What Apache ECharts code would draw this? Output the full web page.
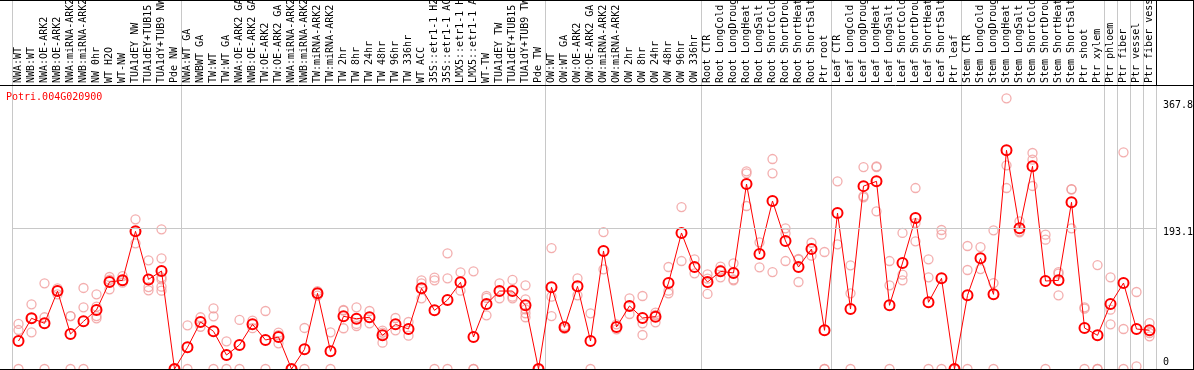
<!DOCTYPE html>
<html><head><meta charset="utf-8">
<script src="https://cdn.jsdelivr.net/npm/echarts@6/dist/echarts.min.js"></script>
<style>html,body{margin:0;padding:0;background:#fff}#c{width:1194px;height:370px}</style>
</head><body><div id="c"></div>
<script>
const categories = [
  'NWA:WT','NWB:WT','NWA:OE-ARK2','NWB:OE-ARK2','NWA:miRNA-ARK2','NWB:miRNA-ARK2','NW 0hr','WT H2O','WT-NW','TUA1dEY NW','TUA1dEY+TUB15 NW','TUA1dY+TUB9 NW','Pde NW',
  'NWA:WT GA','NWBWT GA','TW:WT','TW:WT GA','NWA:OE-ARK2 GA','NWB:OE-ARK2 GA','TW:OE-ARK2','TW:OE-ARK2 GA','NWA:miRNA-ARK2 GA','NWB:miRNA-ARK2 GA','TW:miRNA-ARK2','TW:miRNA-ARK2 GA',
  'TW 2hr','TW 8hr','TW 24hr','TW 48hr','TW 96hr','TW 336hr','WT ACC','35S::etr1-1 H2O','35S::etr1-1 ACC','LMX5::etr1-1 H2O','LMX5::etr1-1 ACC','WT-TW','TUA1dEY TW','TUA1dEY+TUB15 TW','TUA1dY+TUB9 TW','Pde TW',
  'OW:WT','OW:WT GA','OW:OE-ARK2','OW:OE-ARK2 GA','OW:miRNA-ARK2','OW:miRNA-ARK2 GA','OW 2hr','OW 8hr','OW 24hr','OW 48hr','OW 96hr','OW 336hr',
  'Root CTR','Root LongCold','Root LongDrought','Root LongHeat','Root LongSalt','Root ShortCold','Root ShortDrought','Root ShortHeat','Root ShortSalt','Ptr root',
  'Leaf CTR','Leaf LongCold','Leaf LongDrought','Leaf LongHeat','Leaf LongSalt','Leaf ShortCold','Leaf ShortDrought','Leaf ShortHeat','Leaf ShortSalt','Ptr leaf',
  'Stem CTR','Stem LongCold','Stem LongDrought','Stem LongHeat','Stem LongSalt','Stem ShortCold','Stem ShortDrought','Stem ShortHeat','Stem ShortSalt','Ptr shoot','Ptr xylem',
  'Ptr phloem','Ptr fiber','Ptr vessel','Ptr fiber vessel'
];
const meanValues = [
  38.4,69.6,62.7,107,48,65.4,81,119.4,121.7,189,123,134.5,0,
  29.7,64.5,51.7,19.2,33,61.3,39.8,43.9,0,27,103.9,24.3,
  72.3,69,71,46.2,61.3,54.9,110.7,80.5,94.7,119,43.9,89.2,107,107,87.4,0,
  112.1,57.2,113.5,38.4,162,57.6,86.5,70,71.8,118,186.7,140,
  119.4,134,131.8,253.9,157.8,230.6,175.7,140,164.7,53.1,
  214.1,82.3,251,257.6,87.4,145.5,207.2,91.5,124.5,0,
  101.1,151.9,102.5,300.2,193.1,278.2,120.8,121.7,228.8,56.3,46.2,
  89.2,118,54.9,53.1
];
const replicateValues = [
  [61.8,53.5,0],[88.8,50.3,69.7],[117.6,71,0],[110.7,102.5,107.8],[72.7,72.7,0],[111.2,84.7,0],[102.5,85.5,72.7,69.6],
  [126.3,109.4,122.5],[127.6,118.5,121],[205.4,172.5,189],[149.2,112.5,108],[191.7,151.9,125.8,123,113,107.5],[0,0,0],
  [60,0],[71,58],[83.3,72.3,0],[38,0],[67.3,0],[66.3,56],[79.6,0],[49.8,35.3,46.6],[0,0],[56.3,0],[107,103.9,100.8],[50.3,0],
  [81,55.9,80],[84.7,61.8,59],[79.6,62.7],[52.6,50,36.1],[70,53.1],[64.5,45.7],[121.7,117.6,97],[125.3,121.7,0],[158.8,124.5,0],
  [132.7,107.5],[134,0,0],[100.2,97.5,73.7],[117.6,97],[122.2,99.2,97],[114.9,95.7,81.9,76.5,71],[0,0],
  [166,99.2,72.7],[59,55],[124.5,101.1],[76.4,0],[188,136.8],[61.3,54.5],[97,75.5],[100.2,62.7,46.7],[77.3,74.1,64],
  [140,107.5,103.9],[222.3,148.2],[150.6,131.3],
  [130,103,124],[140.4,125.8,136],[145,123,121.7],[271.3,268.6,223.7],[173.9,139.6],[288.2,268.6,133.1],[193.1,186.2,148.2],
  [151,119.4,150],[173.3,155.5],[160.6,0,0],
  [257.6,171.1],[142.3,103.9,0],[277.2,237.4,235.6],[278.2,277.2,216.4],[148.2,114.9,0],[186.7,129.4,121.7],[248.4,200.4,175.3],
  [150.6,125.8,0],[190.8,184.3,0],[0,0,0],
  [168.8,135.9,0],[167.4,137.2],[190.4,118,0],[371.5,279.6,248.4],[202.7,187.6,189],[296.5,287.3,251.2],[184.3,177.5,0],
  [130.8,101.1,133],[246.6,193.1,246.7],[84.7,82.8,0],[142.7,0,0],
  [125.8,81.4,61.3],[297.4,54.9,0],[105.7,3.7],[63.1,49.4,44.9]
];
const yLabelValues = [0, 193.1, 367.8];
const gridValue = 193.1;
const geneTitle = 'Potri.004G020900';
const groupStartIndices = [0, 13, 41, 53, 63, 73, 84, 85, 86, 87];

const FONT = 'DejaVu Sans Mono';
const repData = [];
replicateValues.forEach((arr, i) => arr.forEach(v => repData.push([i, v])));
const sepSet = new Set(groupStartIndices);
const makeSplit = () => ({show: true, interval: (idx) => sepSet.has(idx), lineStyle: {color: '#c8c8c8', width: 1}});

const chart = echarts.init(document.getElementById('c'), null, {renderer: 'canvas'});
chart.setOption({
  animation: false,
  backgroundColor: '#fff',
  title: {text: geneTitle, left: 6, top: 92, padding: 0,
    textStyle: {color: '#ff0000', fontFamily: FONT, fontSize: 10, fontWeight: 'normal'}},
  grid: [
    {left: 12, right: 38, top: 0, height: 85, outerBoundsMode: 'none', containLabel: false},
    {left: 12, right: 38, top: 85, bottom: 1, outerBoundsMode: 'none', containLabel: false}
  ],
  xAxis: [
    {gridIndex: 0, type: 'category', data: categories, position: 'bottom',
      axisLine: {show: false}, axisTick: {show: false}, axisLabel: {show: false}, splitLine: makeSplit()},
    {gridIndex: 1, type: 'category', data: categories, position: 'top',
      axisLine: {show: false}, axisTick: {show: false},
      axisLabel: {show: true, interval: 0, rotate: 90, margin: 2, fontFamily: FONT, fontSize: 10, color: '#000'},
      splitLine: makeSplit()}
  ],
  yAxis: [
    {gridIndex: 0, type: 'value', min: 0, max: 1, show: false},
    {gridIndex: 1, type: 'value', position: 'right', min: 0, max: 389.8,
      axisLine: {show: false}, axisTick: {show: false}, splitLine: {show: false},
      axisLabel: {customValues: yLabelValues, margin: 7, fontFamily: FONT, fontSize: 10, color: '#000',
        formatter: v => v === 0 ? '{b|0}' : '{t|' + v + '}',
        rich: {t: {padding: [9, 0, 0, 0], fontFamily: FONT, fontSize: 10, color: '#000'},
               b: {padding: [0, 0, 14, 0], fontFamily: FONT, fontSize: 10, color: '#000'}}}}
  ],
  series: [
    {type: 'scatter', xAxisIndex: 1, yAxisIndex: 1, data: repData, symbol: 'circle', symbolSize: 9,
      itemStyle: {color: 'rgba(0,0,0,0)', borderColor: '#f09a9a', borderWidth: 1.3}, clip: false, z: 2, silent: true,
      markLine: {silent: true, symbol: 'none', label: {show: false}, animation: false,
        lineStyle: {color: '#c8c8c8', width: 1, type: 'solid'}, data: [{yAxis: gridValue}]}},
    {type: 'line', xAxisIndex: 1, yAxisIndex: 1, data: meanValues, symbol: 'circle', symbolSize: 10, showAllSymbol: true,
      lineStyle: {color: '#ff0000', width: 1}, itemStyle: {color: 'rgba(0,0,0,0)', borderColor: '#ff0000', borderWidth: 2},
      clip: false, z: 3, silent: true}
  ],
  graphic: [
    {type: 'line', shape: {x1: 0, y1: 85.5, x2: 1194, y2: 85.5}, style: {stroke: '#000', lineWidth: 1}, z: 10},
    {type: 'line', shape: {x1: 0, y1: 369.5, x2: 1194, y2: 369.5}, style: {stroke: '#000', lineWidth: 1}, z: 10},
    {type: 'line', shape: {x1: 1193.5, y1: 0, x2: 1193.5, y2: 370}, style: {stroke: '#000', lineWidth: 1}, z: 10},
    {type: 'line', shape: {x1: 0, y1: 0.5, x2: 1194, y2: 0.5}, style: {stroke: '#000', lineWidth: 1}, z: 10},
    {type: 'line', shape: {x1: 1156.5, y1: 0, x2: 1156.5, y2: 85}, style: {stroke: '#000', lineWidth: 1}, z: 10}
  ]
});
</script></body></html>
